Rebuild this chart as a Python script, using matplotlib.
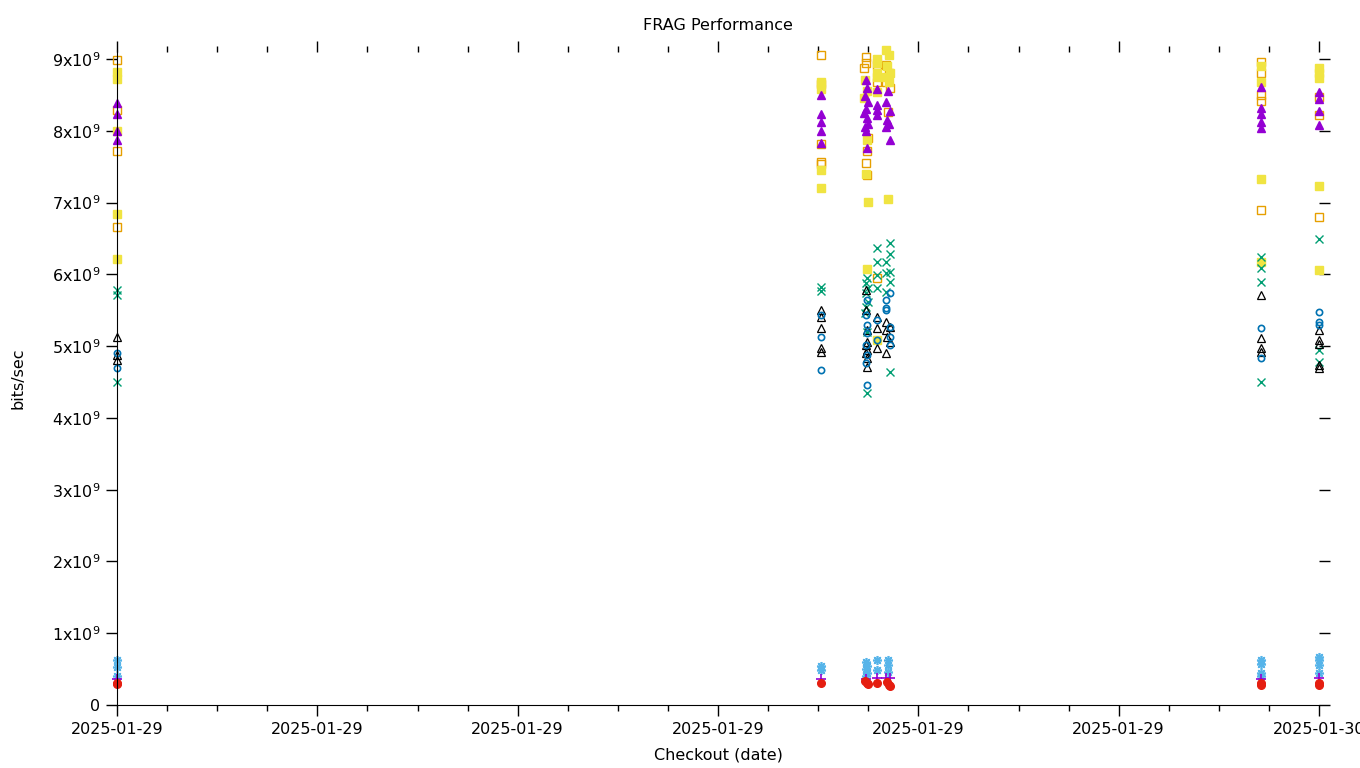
import pandas as pd
import numpy as np
import matplotlib
matplotlib.use("Agg")
import matplotlib.pyplot as plt
import matplotlib.dates as mdates

# hours after 2025-01-29 00:00, values in units of 1e9 bits/sec
# orange open squares
sq_open_x = [0, 0, 0, 0,
             14.06, 14.06, 14.06, 14.06, 14.06,
             14.96, 14.96, 14.92, 15.0, 14.98, 14.96, 14.98,
             15.18, 15.18, 15.18,
             15.36, 15.42, 15.36, 15.44, 15.40,
             22.84, 22.84, 22.84, 22.84, 22.84,
             24, 24, 24]
sq_open_y = [8.98, 8.29, 7.72, 6.66,
             9.05, 8.65, 7.82, 7.57, 7.54,
             9.03, 8.94, 8.87, 7.90, 7.72, 7.55, 7.38,
             8.91, 8.68, 5.95,
             8.91, 8.80, 8.68, 8.60, 8.26,
             8.96, 8.80, 8.50, 8.41, 6.89,
             8.47, 8.22, 6.80]

# yellow filled squares
sq_fill_x = [0, 0, 0, 0, 0,
             14.06, 14.06, 14.06, 14.06,
             14.94, 14.98, 14.92, 14.98, 14.96, 15.0, 14.98,
             15.18, 15.18, 15.18, 15.18, 15.18, 15.18,
             15.36, 15.42, 15.38, 15.44, 15.36, 15.42, 15.40,
             22.84, 22.84, 22.84, 22.84,
             24, 24, 24, 24, 24]
sq_fill_y = [8.82, 8.72, 8.00, 6.84, 6.21,
             8.68, 8.58, 7.46, 7.20,
             8.70, 8.55, 8.45, 7.87, 7.40, 7.01, 6.08,
             9.00, 8.94, 8.80, 8.75, 8.54, 5.09,
             9.12, 9.05, 8.90, 8.80, 8.75, 8.68, 7.05,
             8.90, 8.68, 7.33, 6.17,
             8.87, 8.80, 8.73, 7.23, 6.06]

# purple filled triangles
tri_fill_x = [0, 0, 0, 0,
              14.06, 14.06, 14.06, 14.06, 14.06,
              14.96, 14.98, 14.94, 15.0, 14.96, 14.92, 14.98, 15.0, 14.94, 14.96, 14.98,
              15.18, 15.18, 15.18, 15.18,
              15.40, 15.36, 15.44, 15.38, 15.42, 15.36, 15.44,
              22.84, 22.84, 22.84, 22.84, 22.84,
              24, 24, 24, 24]
tri_fill_y = [8.38, 8.23, 7.99, 7.87,
              8.50, 8.24, 8.12, 8.00, 7.83,
              8.70, 8.60, 8.48, 8.40, 8.30, 8.25, 8.18, 8.10, 8.05, 8.00, 7.76,
              8.58, 8.36, 8.29, 8.22,
              8.56, 8.40, 8.27, 8.15, 8.10, 8.05, 7.87,
              8.61, 8.31, 8.24, 8.12, 8.04,
              8.54, 8.44, 8.28, 8.08]

# green crosses
cross_x = [0, 0, 0,
           14.06, 14.06,
           14.98, 14.96, 15.0, 14.96, 15.0, 14.96, 14.94, 14.98, 14.98,
           15.18, 15.18, 15.18, 15.18,
           15.44, 15.44, 15.36, 15.44, 15.36, 15.44, 15.36, 15.44,
           22.84, 22.84, 22.84, 22.84,
           24, 24, 24]
cross_y = [5.78, 5.71, 4.50,
           5.82, 5.77,
           5.95, 5.88, 5.81, 5.74, 5.61, 5.54, 5.46, 5.20, 4.35,
           6.37, 6.17, 5.99, 5.81,
           6.43, 6.28, 6.17, 6.03, 6.02, 5.89, 5.75, 4.64,
           6.24, 6.09, 5.89, 4.50,
           6.49, 4.94, 4.78]

# black open triangles
tri_open_x = [0, 0, 0,
              14.06, 14.06, 14.06, 14.06, 14.06,
              14.96, 14.96, 14.98, 14.98, 14.96, 14.98, 14.96, 14.98, 14.97,
              15.18, 15.18, 15.18,
              15.36, 15.44, 15.36, 15.38, 15.44, 15.36,
              22.84, 22.84, 22.84, 22.84,
              24, 24, 24, 24, 24]
tri_open_y = [5.13, 4.87, 4.80,
              5.50, 5.41, 5.25, 4.97, 4.92,
              5.78, 5.50, 5.22, 5.06, 5.01, 4.94, 4.90, 4.83, 4.71,
              5.41, 5.25, 4.97,
              5.33, 5.27, 5.22, 5.13, 5.06, 4.90,
              5.71, 5.11, 4.97, 4.92,
              5.22, 5.08, 5.03, 4.74, 4.69]

# blue open circles
circ_x = [0, 0,
          14.06, 14.06, 14.06,
          14.98, 14.96, 14.98, 14.98, 14.96, 14.98, 14.96, 14.97,
          15.18, 15.18,
          15.44, 15.36, 15.36, 15.36, 15.44, 15.44, 15.44,
          22.84, 22.84,
          24, 24, 24]
circ_y = [4.90, 4.69,
          5.43, 5.13, 4.67,
          5.64, 5.43, 5.29, 5.18, 5.01, 4.87, 4.76, 4.46,
          5.36, 5.08,
          5.74, 5.64, 5.53, 5.50, 5.27, 5.13, 5.01,
          5.25, 4.83,
          5.47, 5.34, 5.29]

# light blue asterisks
star_x = [0, 0, 0,
          14.06, 14.06,
          14.96, 14.98, 14.96, 14.98, 14.96,
          15.18, 15.18,
          15.40, 15.40, 15.40,
          22.84, 22.84, 22.84, 22.84,
          24, 24, 24, 24]
star_y = [0.63, 0.53, 0.40,
          0.54, 0.49,
          0.60, 0.55, 0.50, 0.45, 0.40,
          0.63, 0.49,
          0.63, 0.56, 0.46,
          0.63, 0.57, 0.44, 0.40,
          0.67, 0.63, 0.56, 0.44]

# purple plus
plus_x = [0, 14.06, 14.96, 15.18, 15.36, 15.44, 22.84, 24]
plus_y = [0.36, 0.36, 0.36, 0.37, 0.37, 0.37, 0.36, 0.37]

# red filled circles
dot_x = [0, 0, 14.06, 14.94, 14.98, 15.0, 15.18, 15.38, 15.42, 15.44, 22.84, 22.84, 24, 24]
dot_y = [0.31, 0.29, 0.30, 0.33, 0.30, 0.29, 0.30, 0.32, 0.28, 0.26, 0.30, 0.28, 0.30, 0.28]

start = pd.Timestamp("2025-01-29")


def to_dates(hours):
    return start + pd.to_timedelta(np.array(hours), unit="h")


plt.rcParams["font.family"] = "DejaVu Sans"
plt.rcParams["font.size"] = 11.5

fig = plt.figure(figsize=(13.6, 7.68), dpi=100)
ax = fig.add_axes([117 / 1360, 1 - 705 / 768, (1319 - 117) / 1360, (705 - 52) / 768])

ms = 5.5
ax.plot(to_dates(sq_open_x), np.array(sq_open_y) * 1e9, "s", mfc="none", mec="#e69f00", mew=1.0, ms=ms, clip_on=False)
ax.plot(to_dates(sq_fill_x), np.array(sq_fill_y) * 1e9, "s", color="#f0e442", ms=ms, clip_on=False)
ax.plot(to_dates(tri_fill_x), np.array(tri_fill_y) * 1e9, "^", color="#9400d3", ms=ms + 0.5, clip_on=False)
ax.plot(to_dates(cross_x), np.array(cross_y) * 1e9, "x", color="#009e73", mew=1.0, ms=ms, clip_on=False)
ax.plot(to_dates(tri_open_x), np.array(tri_open_y) * 1e9, "^", mfc="none", mec="black", mew=0.9, ms=ms + 0.5, clip_on=False)
ax.plot(to_dates(circ_x), np.array(circ_y) * 1e9, "o", mfc="none", mec="#0072b2", mew=1.2, ms=4.5, clip_on=False)
ax.plot(to_dates(star_x), np.array(star_y) * 1e9, marker=(8, 2, 0), ls="none", color="#56b4e9", mew=1.2, ms=6.5, clip_on=False)
ax.plot(to_dates(plus_x), np.array(plus_y) * 1e9, "+", color="#9400d3", mew=1.2, ms=ms + 1, clip_on=False)
ax.plot(to_dates(dot_x), np.array(dot_y) * 1e9, "o", color="#e51e10", ms=ms, clip_on=False)

ax.set_xlim(to_dates([0])[0], to_dates([24])[0])
ax.set_ylim(0, 9.097e9)

ax.xaxis.set_major_locator(mdates.HourLocator(byhour=range(0, 24, 4)))
ax.xaxis.set_minor_locator(mdates.HourLocator())
ax.xaxis.set_major_formatter(mdates.DateFormatter("%Y-%m-%d"))

yticks = [0, 1e9, 2e9, 3e9, 4e9, 5e9, 6e9, 7e9, 8e9, 9e9]
ylabels = ["0"] + ["%dx10$^{9}$" % i for i in range(1, 10)]
ax.set_yticks(yticks)
ax.set_yticklabels(ylabels)

ax.spines["top"].set_visible(False)
ax.spines["right"].set_visible(False)
ax.tick_params(which="major", direction="out", length=8, width=1, top=True, right=True, pad=4)
ax.tick_params(which="minor", direction="out", length=4, width=1, top=True, right=False)
ax.tick_params(axis="y", which="minor", left=False, right=False)

fig.text(718 / 1360, 1 - 25 / 768, "FRAG Performance", ha="center", va="center", fontsize=11.5)
ax.set_xlabel("Checkout (date)", labelpad=8)
ax.set_ylabel("bits/sec", labelpad=19)

fig.savefig("out.png", dpi=100)
